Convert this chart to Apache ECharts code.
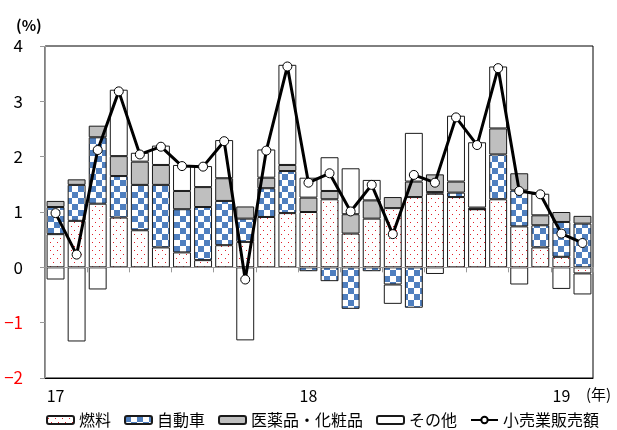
<!DOCTYPE html>
<html>
<head>
<meta charset="utf-8">
<script src="https://cdn.jsdelivr.net/npm/echarts@6/dist/echarts.min.js"></script>
<style>
  html, body { margin: 0; padding: 0; background: #fff; }
  #chart { width: 617px; height: 430px; }
</style>
</head>
<body>
<div id="chart"></div>
<script>
// Months from 2017/1 to 2019/2
const months = [
  '17/1','17/2','17/3','17/4','17/5','17/6','17/7','17/8','17/9','17/10','17/11','17/12',
  '18/1','18/2','18/3','18/4','18/5','18/6','18/7','18/8','18/9','18/10','18/11','18/12',
  '19/1','19/2'
];
// Year labels shown under the first month of each year
const yearTicks = { 0: '17', 12: '18', 24: '19' };

// Contributions to the year-on-year change (percentage points)
const fuel = [0.60, 0.84, 1.15, 0.90, 0.67, 0.36, 0.27, 0.13, 0.40, 0.46, 0.91, 0.98,
              1.00, 1.23, 0.61, 0.88, 1.07, 1.27, 1.33, 1.27, 1.05, 1.23, 0.74, 0.36,
              0.19, -0.11];
const autos = [0.49, 0.65, 1.20, 0.75, 0.82, 1.13, 0.78, 0.96, 0.80, 0.42, 0.52, 0.76,
               -0.07, -0.25, -0.75, -0.07, -0.31, -0.73, 0.03, 0.08, 0.00, 0.81, 0.65, 0.40,
               0.63, 0.79];
const pharma = [0.11, 0.10, 0.21, 0.36, 0.42, 0.36, 0.33, 0.36, 0.41, 0.22, 0.19, 0.11,
                0.26, 0.15, 0.35, 0.33, 0.20, 0.28, 0.32, 0.20, 0.03, 0.47, 0.31, 0.18,
                0.18, 0.14];
const others = [-0.22, -1.34, -0.40, 1.20, 0.16, 0.35, 0.47, 0.38, 0.69, -1.32, 0.51, 1.81,
                0.36, 0.61, 0.83, 0.37, -0.35, 0.88, -0.12, 1.19, 1.18, 1.12, -0.31, 0.39,
                -0.39, -0.38];
// Retail sales, year-on-year change (%)
const retail = [0.98, 0.23, 2.12, 3.18, 2.04, 2.18, 1.83, 1.82, 2.28, -0.22, 2.11, 3.63,
                1.53, 1.70, 1.01, 1.49, 0.60, 1.67, 1.53, 2.71, 2.21, 3.60, 1.38, 1.32,
                0.61, 0.44];

const seriesNames = ['燃料', '自動車', '医薬品・化粧品', 'その他', '小売業販売額'];

// Fill patterns for the bar segments
function dotPattern() {
  const c = document.createElement('canvas');
  c.width = 7; c.height = 8;
  const g = c.getContext('2d');
  g.fillStyle = '#ffffff';
  g.fillRect(0, 0, 7, 8);
  g.fillStyle = '#e0202a';
  g.fillRect(1, 2, 1, 1);
  g.fillRect(4, 6, 1, 1);
  return c;
}
function checkerPattern() {
  const s = 6;
  const c = document.createElement('canvas');
  c.width = s * 2; c.height = s * 2;
  const g = c.getContext('2d');
  g.fillStyle = '#ffffff';
  g.fillRect(0, 0, s * 2, s * 2);
  g.fillStyle = '#4f7fbf';
  g.fillRect(0, 0, s, s);
  g.fillRect(s, s, s, s);
  return c;
}

const FONT = '"Noto Sans CJK JP", "Noto Sans", sans-serif';
const border = { borderColor: '#1a1a1a', borderWidth: 1 };

const chart = echarts.init(document.getElementById('chart'), null, { renderer: 'canvas' });

function barSeries(name, data, fill) {
  return {
    name: name,
    type: 'bar',
    stack: 'contrib',
    data: data,
    barCategoryGap: '15%',
    itemStyle: Object.assign({ color: fill }, border),
    emphasis: { disabled: true }
  };
}

chart.setOption({
  animation: false,
  textStyle: { fontFamily: FONT },
  grid: {
    left: 45, right: 24, top: 46, bottom: 52,
    show: true, borderColor: '#000', borderWidth: 1, backgroundColor: 'transparent'
  },
  legend: {
    data: seriesNames,
    left: 46, top: 412,
    padding: 0,
    itemWidth: 27, itemHeight: 8, itemGap: 13,
    textStyle: { fontSize: 16, color: '#000', fontFamily: FONT },
    selectedMode: false
  },
  graphic: [
    { type: 'text', left: 16, top: 18, style: { text: '(%)', font: 'bold 15px ' + FONT, fill: '#000' } },
    { type: 'text', left: 586, top: 387, style: { text: '(年)', font: '15px ' + FONT, fill: '#000' } }
  ],
  xAxis: [
    {
      type: 'category',
      data: months,
      position: 'bottom',
      axisLine: { onZero: true, lineStyle: { color: '#999', width: 1 } },
      axisTick: { show: true, length: 5, lineStyle: { color: '#999' } },
      axisLabel: { show: false },
      splitLine: { show: false },
      z: 3
    },
    {
      type: 'category',
      data: months,
      position: 'bottom',
      axisLine: { onZero: false, lineStyle: { color: '#000', width: 1 } },
      axisTick: { show: false },
      axisLabel: {
        interval: 0,
        margin: 10,
        fontSize: 16,
        color: '#000',
        formatter: (v, i) => yearTicks[i] || ''
      }
    }
  ],
  yAxis: {
    type: 'value',
    min: -2, max: 4, interval: 1,
    axisLine: { show: true, lineStyle: { color: '#999' } },
    axisTick: { show: true, length: 5, lineStyle: { color: '#999' } },
    splitLine: { show: false },
    axisLabel: {
      margin: 22,
      fontSize: 17,
      formatter: v => (v < 0 ? '\u2212' + Math.abs(v) : String(v)),
      color: v => (v < 0 ? '#ff0000' : '#000')
    }
  },
  series: [
    barSeries(seriesNames[0], fuel, { image: dotPattern(), repeat: 'repeat' }),
    barSeries(seriesNames[1], autos, { image: checkerPattern(), repeat: 'repeat' }),
    barSeries(seriesNames[2], pharma, '#bfbfbf'),
    barSeries(seriesNames[3], others, '#ffffff'),
    {
      name: seriesNames[4],
      type: 'line',
      data: retail,
      z: 5,
      symbol: 'circle',
      symbolSize: 9,
      lineStyle: { color: '#000', width: 3 },
      itemStyle: { color: '#fff', borderColor: '#000', borderWidth: 1 },
      emphasis: { disabled: true }
    }
  ]
});
</script>
</body>
</html>
